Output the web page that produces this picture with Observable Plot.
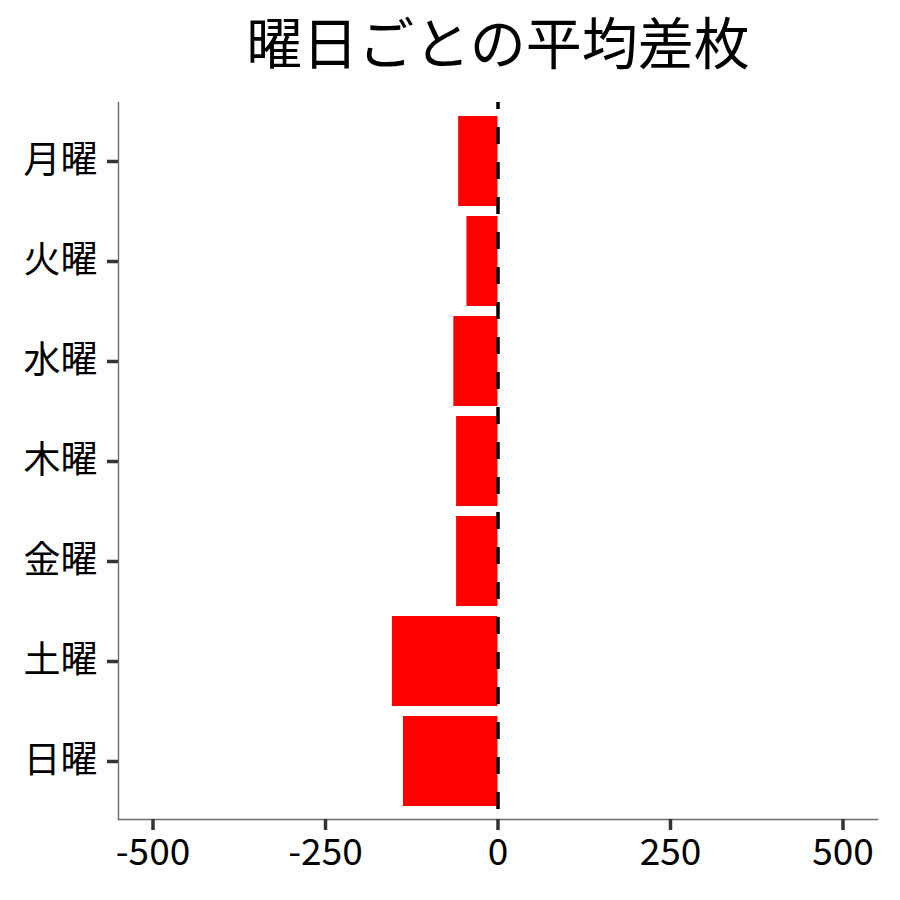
<!DOCTYPE html>
<html>
<head>
<meta charset="utf-8">
<script src="https://cdn.jsdelivr.net/npm/d3@7"></script>
<script src="https://cdn.jsdelivr.net/npm/@observablehq/plot@0.6"></script>
<style>
  html, body { margin: 0; padding: 0; background: #fff; }
  svg { display: block; }
</style>
</head>
<body>
<div id="chart"></div>
<script>
const days = ["月曜", "火曜", "水曜", "木曜", "金曜", "土曜", "日曜"];
const avgDiff = [-57, -45, -64, -60, -60, -153, -137];
const xTicks = [-500, -250, 0, 250, 500];
const title = "曜日ごとの平均差枚";

const data = days.map((d, i) => ({day: d, value: avgDiff[i]}));
const font = "'Noto Sans CJK JP', 'Noto Sans', sans-serif";

const chart = Plot.plot({
  width: 900,
  height: 900,
  marginLeft: 118,
  marginRight: 23,
  marginTop: 102,
  marginBottom: 81,
  style: {fontFamily: font, background: "#fff", color: "#000"},
  x: {domain: [-550, 550]},
  y: {domain: days, padding: 0.1, paddingOuter: 0.135},
  marks: [
    Plot.barX(data, {x: "value", y: "day", fill: "#FF0000"}),
    Plot.ruleX([0], {stroke: "#000", strokeWidth: 3.5, strokeDasharray: "17 18", strokeDashoffset: 10}),
    Plot.frame({anchor: "left", stroke: "#6b6b6b", strokeWidth: 1.4}),
    Plot.frame({anchor: "bottom", stroke: "#6b6b6b", strokeWidth: 1.4}),
    Plot.axisX({ticks: xTicks, tickFormat: d => String(d), tickSize: 11, tickPadding: 8, stroke: "#333", strokeWidth: 3.5, fontSize: 37, fill: "#000", label: null}),
    Plot.axisY({tickSize: 11, tickPadding: 10, stroke: "#333", strokeWidth: 3.5, fontSize: 37, fill: "#000", label: null}),
    Plot.text([title], {frameAnchor: "top", dy: -56, text: d => d, fontSize: 56, fill: "#000", lineAnchor: "middle", textAnchor: "middle"})
  ]
});
document.getElementById("chart").appendChild(chart);
</script>
</body>
</html>
